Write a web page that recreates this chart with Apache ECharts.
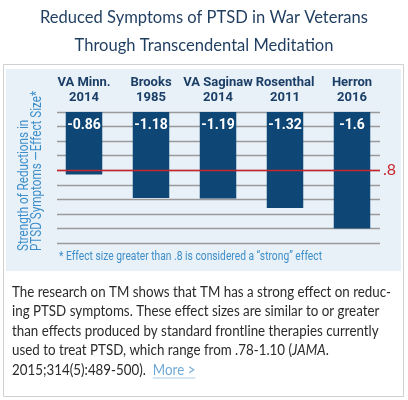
<!DOCTYPE html>
<html>
<head>
<meta charset="utf-8">
<script src="https://cdn.jsdelivr.net/npm/echarts@6/dist/echarts.min.js"></script>
<style>html,body{margin:0;padding:0;background:#fff;}#c{width:408px;height:400px;}</style>
</head>
<body>
<div id="c"></div>
<script>
// ---- data ----
var categories = ['VA Minn.\n2014', 'Brooks\n1985', 'VA Saginaw\n2014', 'Rosenthal\n2011', 'Herron\n2016'];
var effectSizes = [-0.86, -1.18, -1.19, -1.32, -1.6];
var strongThreshold = -0.8;
var thresholdLabel = '.8';
var titleLines = ['Reduced Symptoms of PTSD in War Veterans', 'Through Transcendental Meditation'];
var yTitleLines = ['Strength of Reductions in', 'PTSD Symptoms \u2014Effect Size*'];
var footnote = '* Effect size greater than .8 is considered a \u201cstrong\u201d effect';
var bodyPlain = [
  'The research on TM shows that TM has a strong effect on reduc-',
  'ing PTSD symptoms. These effect sizes are similar to or greater',
  'than effects produced by standard frontline therapies currently',
  'used to treat PTSD, which range from .78-1.10 (JAMA.',
  '2015;314(5):489-500).  More >'
];
var bodyRich = [
  bodyPlain[0], bodyPlain[1], bodyPlain[2],
  'used to treat PTSD, which range from .78-1.10 ({i|JAMA}.',
  '2015;314(5):489-500).  {l|More >}'
];
var linkPrefix = '2015;314(5):489-500).  ';
var linkText = 'More >';

var COND = 'Roboto, sans-serif';
var BODY = 'Lato, sans-serif';
var ctx = document.createElement('canvas').getContext('2d');
function tw(str, font) { ctx.font = font; return ctx.measureText(str).width; }

var chart = echarts.init(document.getElementById('c'), null, {renderer: 'canvas'});

var titleFont = '18px ' + BODY;
var titleScale = 328 / tw(titleLines[0], titleFont);
var yFont = '14px ' + COND;
var yScale = 160 / tw(yTitleLines[1], yFont);
var fnFont = '13px ' + COND;
var fnScale = 263 / tw(footnote, fnFont);
var bodyFont = '14.5px ' + BODY;
var bodyScale = 379 / tw(bodyPlain[0], bodyFont);

var graphics = [
  {type: 'rect', z: -20, shape: {x: 3.5, y: 64.5, width: 400, height: 332}, style: {fill: '#fff', stroke: '#d0d0d0', lineWidth: 1}},
  {type: 'rect', z: -10, shape: {x: 6, y: 69, width: 395, height: 202}, style: {fill: '#e9f1f8'}},
  {type: 'text', x: 31, y: 251, rotation: Math.PI / 2, scaleX: yScale, z: 5,
    style: {text: yTitleLines.join('\n'), fill: '#3d8ec9', font: yFont, textAlign: 'left', textVerticalAlign: 'middle', lineHeight: 13.5}},
  {type: 'text', x: 59, y: 257, scaleX: fnScale, z: 5,
    style: {text: footnote, fill: '#3d8ec9', font: fnFont, textAlign: 'left', textVerticalAlign: 'middle'}}
];
titleLines.forEach(function (t, i) {
  graphics.push({type: 'text', x: 204, y: [17, 45][i], scaleX: titleScale, z: 5,
    style: {text: t, fill: '#1f3d5f', font: titleFont, textAlign: 'center', textVerticalAlign: 'middle'}});
});
var lineY = [292, 311.5, 331, 350.5, 370];
bodyRich.forEach(function (t, i) {
  graphics.push({type: 'text', x: 12, y: lineY[i], scaleX: bodyScale, z: 5,
    style: {text: t, fill: '#2b2b2b', font: bodyFont, textAlign: 'left', textVerticalAlign: 'middle',
      rich: {i: {fontStyle: 'italic', fontSize: 14.5, fontFamily: 'Lato', fill: '#2b2b2b'},
             l: {fill: '#6fa8d6', fontSize: 14.5, fontFamily: 'Lato'}}}});
});
var lx1 = 12 + tw(linkPrefix, bodyFont) * bodyScale;
var lx2 = lx1 + tw(linkText, bodyFont) * bodyScale;
graphics.push({type: 'line', z: 5, shape: {x1: lx1, y1: 378, x2: lx2, y2: 378}, style: {stroke: '#a9cbe7', lineWidth: 1}});

var option = {
  animation: false,
  graphic: graphics,
  grid: [
    {left: 57, right: 28, top: 112, height: 131},
    {left: 50.5, width: 335, top: 112, height: 131}
  ],
  xAxis: [
    {type: 'value', gridIndex: 0, show: false, min: 0, max: 1},
    {type: 'category', gridIndex: 1, position: 'top', data: categories,
      axisLine: {show: false}, axisTick: {show: false},
      axisLabel: {interval: 0, margin: 6, color: '#1b3e66', fontFamily: COND, fontSize: 13, fontWeight: 'bold', lineHeight: 15.6}}
  ],
  yAxis: [
    {type: 'value', gridIndex: 0, min: -1.8, max: 0, interval: 0.2,
      axisLine: {show: false}, axisTick: {show: false}, axisLabel: {show: false},
      splitLine: {lineStyle: {color: '#9a9a9a', width: 1.3}}},
    {type: 'value', gridIndex: 1, min: -1.8, max: 0, interval: 0.2, show: false, splitLine: {show: false}}
  ],
  series: [
    {type: 'line', xAxisIndex: 0, yAxisIndex: 0, data: [], z: 1, silent: true,
      markLine: {symbol: 'none', silent: true,
        lineStyle: {color: '#c8262c', type: 'solid', width: 1.3},
        label: {show: true, position: 'end', formatter: thresholdLabel, color: '#c8262c', fontSize: 16, fontFamily: BODY, distance: 3},
        data: [{yAxis: strongThreshold}]}},
    {type: 'bar', xAxisIndex: 1, yAxisIndex: 1, data: effectSizes, barWidth: 36.5, z: 3,
      itemStyle: {color: '#0e4775'},
      label: {show: true, position: 'insideTop', distance: 6, color: '#fff', fontFamily: COND, fontSize: 14, fontWeight: 'bold'}}
  ]
};
chart.setOption(option);
</script>
</body>
</html>
